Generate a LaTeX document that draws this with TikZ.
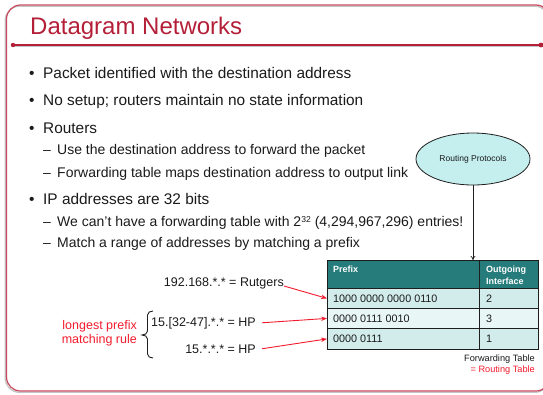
\documentclass[tikz,border=0pt]{standalone}
\usepackage{fontspec}
\setmainfont{Liberation Sans}
\usetikzlibrary{arrows.meta,shapes.geometric}
\definecolor{titlered}{HTML}{B41F38}
\definecolor{framered}{HTML}{C84A60}
\definecolor{shadowgray}{HTML}{C4C4C4}
\definecolor{bodytext}{HTML}{1A1A1A}
\definecolor{cyanfill}{HTML}{C5EEEE}
\definecolor{tealhead}{HTML}{267B7B}
\definecolor{rowA}{HTML}{D2ECEC}
\definecolor{rowB}{HTML}{E9F6F6}
\definecolor{tableline}{HTML}{1E1E1E}
\definecolor{hotred}{HTML}{F21B2D}
\tikzset{
  bul/.style={anchor=base west, inner sep=0pt, text=bodytext, font=\fontsize{15.4}{18}\selectfont},
  subitem/.style={anchor=base west, inner sep=0pt, text=bodytext, font=\fontsize{14}{16}\selectfont},
  lbl/.style={anchor=base east, inner sep=0pt, text=bodytext, font=\fontsize{12.5}{15}\selectfont},
  redlbl/.style={anchor=base east, inner sep=0pt, text=hotred, font=\fontsize{12.5}{15}\selectfont},
  cell/.style={draw=tableline, line width=0.8pt, anchor=north west, inner sep=0pt},
  celltext/.style={anchor=base west, inner sep=0pt, text=bodytext, font=\fontsize{10.8}{13}\selectfont},
  headtext/.style={anchor=base west, inner sep=0pt, text=white, font=\bfseries\fontsize{9}{11}\selectfont},
  foot/.style={anchor=base east, inner sep=0pt, font=\fontsize{9.2}{11}\selectfont},
  redarr/.style={draw=hotred, line width=0.9pt, -{Stealth[length=6pt,width=4.5pt]}},
}
\begin{document}
\begin{tikzpicture}[x=1pt,y=-1pt]
\useasboundingbox (0,0) rectangle (543,394);
% frame
\begin{scope}
\clip (0,0) rectangle (543,394);
\draw[shadowgray, line width=1.3pt, rounded corners=14pt] (5.3,6.2) rectangle (549,392.3);
\draw[framered, line width=1.2pt, rounded corners=14pt] (6.5,5) rectangle (550,391);
\end{scope}
% title
\node[anchor=base west, inner sep=0pt, text=titlered, font=\fontsize{24}{28}\selectfont] (title) at (30,34) {Datagram Networks};
\coordinate (ul) at (13,45);
\coordinate (ur) at (541,45);
\draw[shadowgray, line width=1.2pt] ([yshift=-1.2pt]ul) -- ([yshift=-1.2pt]ur);
\draw[titlered, line width=1.5pt] (ul) -- (ur);
\fill[titlered] (ul) circle (2.2);
\fill[titlered] (ur) circle (2.4);
% bullets
\node[bul] (d1) at (29,78) {\textbullet};
\node[bul] (b1) at (43,78) {Packet identified with the destination address};
\node[bul] (d2) at (29,105) {\textbullet};
\node[bul] (b2) at (43,105) {No setup; routers maintain no state information};
\node[bul] (d3) at (29,133) {\textbullet};
\node[bul] (b3) at (43,133) {Routers};
\node[subitem] (e1) at (43,154) {–};
\node[subitem] (s1) at (57,154) {Use the destination address to forward the packet};
\node[subitem] (e2) at (43,177) {–};
\node[subitem] (s2) at (57,177) {Forwarding table maps destination address to output link};
\node[bul] (d4) at (29,204) {\textbullet};
\node[bul] (b4) at (43,204) {IP addresses are 32 bits};
\node[subitem] (e3) at (43,226) {–};
\node[subitem] (s3) at (57,226) {We can’t have a forwarding table with 2\raisebox{4pt}{\fontsize{8.6}{10}\selectfont 32} (4,294,967,296) entries!};
\node[subitem] (e4) at (43,247) {–};
\node[subitem] (s4) at (57,247) {Match a range of addresses by matching a prefix};
% routing protocols ellipse
\node[ellipse, draw=tableline, line width=0.8pt, fill=cyanfill, minimum width=114pt, minimum height=52pt, inner sep=0pt, text=bodytext, font=\fontsize{8.5}{10}\selectfont] (rp) at (473,159) {Routing Protocols};
% table
\node[cell, fill=tealhead, minimum width=152pt, minimum height=28pt] (h1) at (327,260) {};
\node[cell, fill=tealhead, minimum width=59pt, minimum height=28pt] (h2) at (479,260) {};
\node[cell, fill=rowA, minimum width=152pt, minimum height=20pt] (r1a) at (327,288) {};
\node[cell, fill=rowA, minimum width=59pt, minimum height=20pt] (r1b) at (479,288) {};
\node[cell, fill=rowB, minimum width=152pt, minimum height=20pt] (r2a) at (327,308) {};
\node[cell, fill=rowB, minimum width=59pt, minimum height=20pt] (r2b) at (479,308) {};
\node[cell, fill=rowA, minimum width=152pt, minimum height=21pt] (r3a) at (327,328) {};
\node[cell, fill=rowA, minimum width=59pt, minimum height=21pt] (r3b) at (479,328) {};
\node[headtext] (hp) at (333,272) {Prefix};
\node[headtext] (ho1) at (486,272) {Outgoing};
\node[headtext] (ho2) at (486,284) {Interface};
\node[celltext] (t1a) at (333,302) {1000 0000 0000 0110};
\node[celltext] (t1b) at (486,302) {2};
\node[celltext] (t2a) at (333,322) {0000 0111 0010};
\node[celltext] (t2b) at (486,322) {3};
\node[celltext] (t3a) at (333,342) {0000 0111};
\node[celltext] (t3b) at (486,342) {1};
\node[foot, text=bodytext] (f1) at (535,361) {Forwarding Table};
\node[foot, text=hotred] (f2) at (535,372) {= Routing Table};
% arrow from ellipse to table
\draw[draw=tableline, line width=0.7pt, -{To[length=4pt,width=5pt]}] (rp.south) -- (rp.south |- h1.north);
% left labels
\node[lbl] (l1) at (284,286) {192.168.*.* = Rutgers};
\node[lbl] (l2) at (256,326) {15.[32-47].*.* = HP};
\node[lbl] (l3) at (256,353) {15.*.*.* = HP};
\node[redlbl] (lp1) at (137,329) {longest prefix};
\node[redlbl] (lp2) at (137,343) {matching rule};
\draw[redarr] (l1.base east) -- (r1a.west);
\draw[redarr] ([xshift=6pt]l2.east) -- (r2a.west);
\draw[redarr] ([xshift=6pt]l3.east) -- (r3a.west);
% brace
\draw[tableline, line width=0.9pt] (153,311) to[out=180,in=90] (147.5,315) -- (147.5,331) to[out=-90,in=0] (142,335) to[out=0,in=90] (147.5,339) -- (147.5,354) to[out=-90,in=180] (153,358);
\end{tikzpicture}
\end{document}
